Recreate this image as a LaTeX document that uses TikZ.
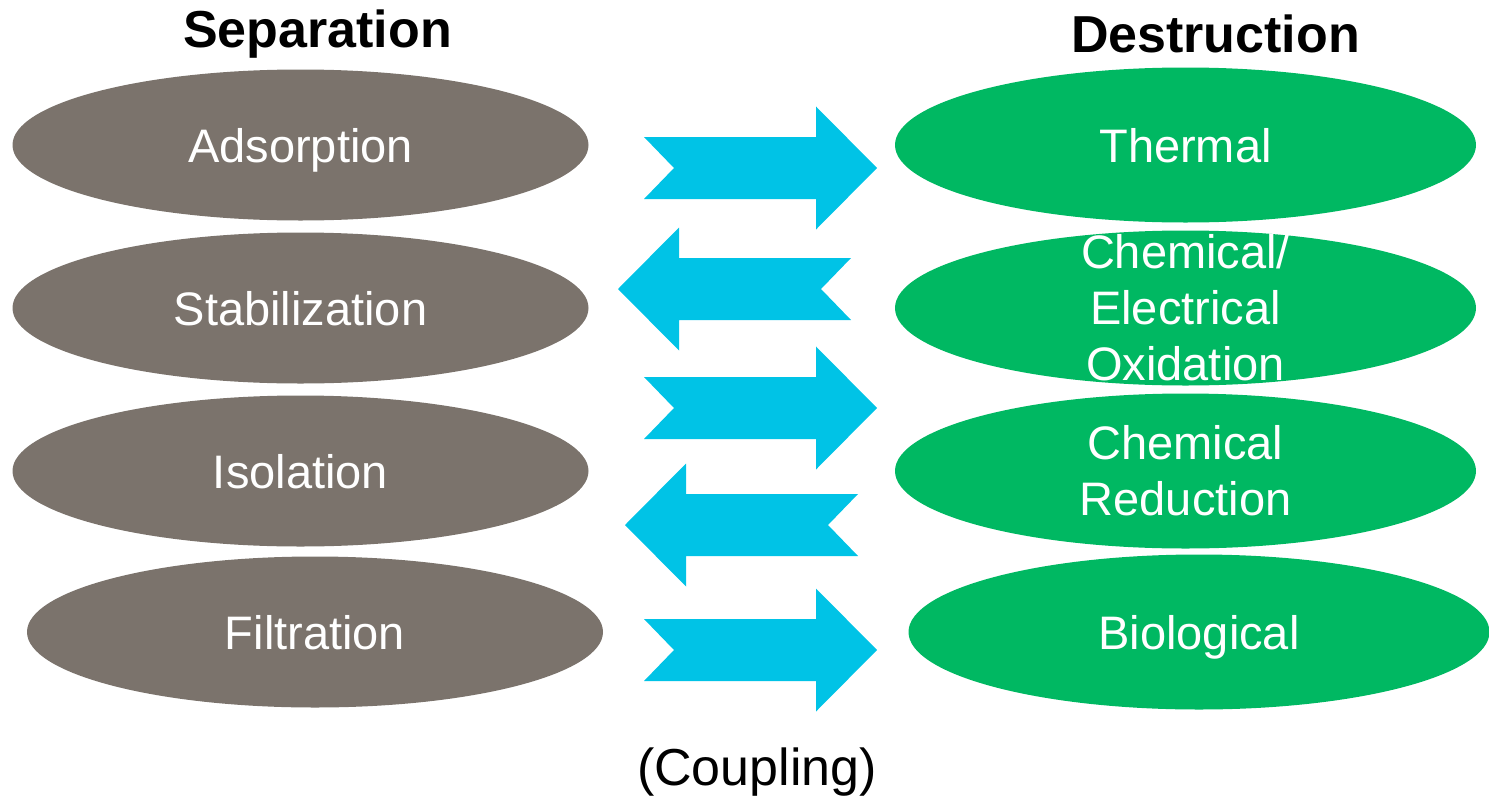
\documentclass[tikz,border=0pt]{standalone}
\usepackage{fontspec}
\setmainfont{Liberation Sans}
\usetikzlibrary{shapes.geometric}
\definecolor{sepgrey}{RGB}{123,115,108}
\definecolor{destgreen}{RGB}{0,184,98}
\definecolor{coupleblue}{RGB}{0,195,230}

\begin{document}
\begin{tikzpicture}[x=1pt, y=-1pt,
			every node/.style={font=\fontsize{47}{56}\selectfont, text=white, align=center},
			sepnode/.style={ellipse, fill=sepgrey, minimum width=576pt, minimum height=151pt, inner sep=0pt, text depth=0pt},
			destnode/.style={ellipse, fill=destgreen, minimum width=581pt, minimum height=155pt, inner sep=0pt, text depth=0pt},
			heading/.style={font=\fontsize{52}{60}\selectfont\bfseries, text=black, anchor=base},
			couple/.pic={\fill[coupleblue] (-116.5,-31) -- (55.5,-31) -- (55.5,-61.5) -- (116.5,0)
				-- (55.5,61.5) -- (55.5,31) -- (-116.5,31) -- (-86.5,0) -- cycle;}]
			\useasboundingbox (0,0) rectangle (1489,798);

			% separation side
			\node[heading] (separation) at (317.5,47) {Separation};
			\node[sepnode] (adsorption) at (300.5,145) {Adsorption};
			\node[sepnode] (stabilization) at (300.5,308) {Stabilization};
			\node[sepnode] (isolation) at (300.5,471) {Isolation};
			\node[sepnode] (filtration) at (315,632) {Filtration};

			% destruction side
			\node[heading] (destruction) at (1215.5,52) {Destruction};
			\node[destnode] (thermal) at (1185.5,145) {Thermal};
			\node[destnode, label={center:{Chemical/\\Electrical\\Oxidation}}] (oxidation) at (1185.5,308) {};
			\node[destnode, label={center:{Chemical\\Reduction}}] (reduction) at (1185.5,471) {};
			\node[destnode] (biological) at (1199,632) {Biological};

			% coupling arrows
			\foreach \x/\y/\dir in {760.5/168/1, 734.5/289/-1, 760.5/408/1, 741.5/525/-1, 760.5/650/1}
				\pic[xscale=\dir] at (\x,\y) {couple};
			\node[font=\fontsize{52}{60}\selectfont, text=black, anchor=base] (coupling) at (757,785) {(Coupling)};
		\end{tikzpicture}
\end{document}
